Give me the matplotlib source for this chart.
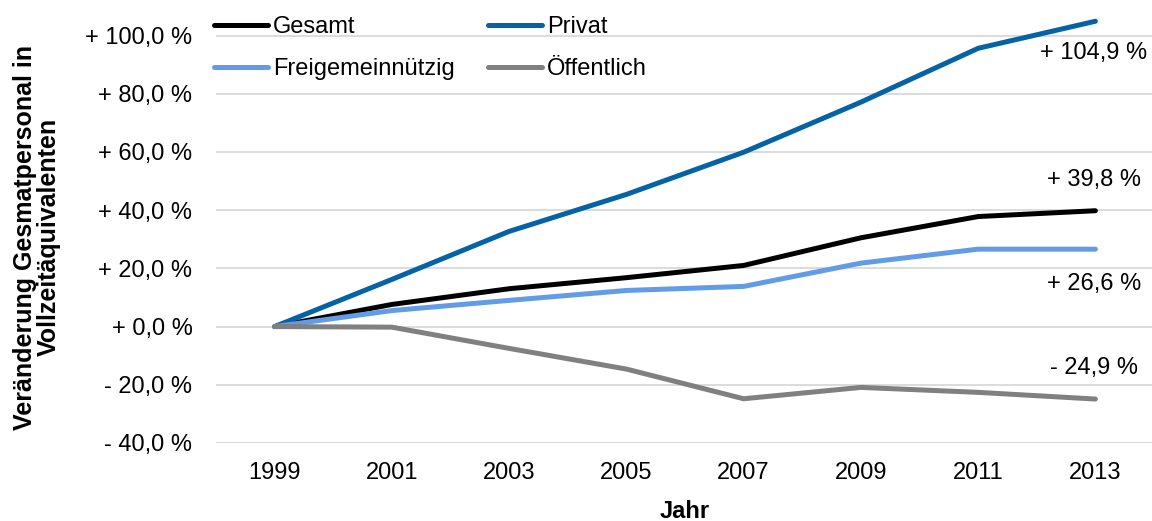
import matplotlib
matplotlib.use("Agg")
import matplotlib.pyplot as plt

plt.rcParams['font.family'] = ['Liberation Sans', 'DejaVu Sans']

# data (change vs. 1999 in %)
years = ["1999", "2001", "2003", "2005", "2007", "2009", "2011", "2013"]
gesamt = [0.0, 7.6, 13.0, 16.8, 21.0, 30.5, 37.8, 39.8]
privat = [0.0, 16.2, 32.7, 45.4, 59.9, 77.1, 95.6, 104.9]
freigemein = [0.0, 5.5, 9.0, 12.4, 13.8, 21.8, 26.6, 26.6]
oeffentlich = [0.0, -0.2, -7.5, -14.6, -24.8, -20.9, -22.6, -24.9]

series_names = ["Gesamt", "Privat", "Freigemeinnützig", "Öffentlich"]
end_labels = ["+ 39,8 %", "+ 104,9 %", "+ 26,6 %", "- 24,9 %"]
yticks = [-40, -20, 0, 20, 40, 60, 80, 100]

colors = ["#000000", "#0563a5", "#629ce6", "#808080"]
label_offsets = [(33, 22), (37, -23), (33, -25), (31, 22)]  # points, right aligned

fig = plt.figure(figsize=(11.52, 5.21), dpi=100)
ax = fig.add_axes([216 / 1152, 78 / 521, 938 / 1152, 443 / 521])

x = range(len(years))
lines = []
for name, vals, col in zip(series_names, [gesamt, privat, freigemein, oeffentlich], colors):
    ln, = ax.plot(x, vals, color=col, lw=3.6, solid_capstyle='round',
                  solid_joinstyle='round', label=name, zorder=3)
    lines.append(ln)

for vals, lab, off in zip([gesamt, privat, freigemein, oeffentlich], end_labels, label_offsets):
    ax.annotate(lab, xy=(len(years) - 1, vals[-1]), xytext=off, textcoords='offset points',
                ha='right', va='center', fontsize=17)

ax.set_xlim(-0.5, len(years) - 0.5)
ax.set_ylim(-40, 112.2)
ax.set_yticks(yticks)
ax.set_yticklabels([("- " if v < 0 else "+ ") + f"{abs(v):.1f}".replace(".", ",") + " %"
                    for v in yticks])
ax.set_xticks(list(x))
ax.set_xticklabels(years)
ax.tick_params(axis='both', length=0, labelsize=17)
ax.tick_params(axis='y', pad=17)
ax.tick_params(axis='x', pad=14)
ax.grid(axis='y', color='#d9d9d9', lw=1.3, zorder=0)
ax.set_axisbelow(True)
for s in ax.spines.values():
    s.set_visible(False)

ax.set_xlabel("Jahr", fontsize=17, fontweight='bold', labelpad=11)
fig.text(0.032, 0.545, "Veränderung Gesmatpersonal in\nVollzeitäquivalenten",
         rotation=90, ha='center', va='center', fontsize=18, fontweight='bold',
         linespacing=1.0)

# legend filled column-wise, so order handles to get Gesamt/Privat in the first row
order = [0, 2, 1, 3]
fig.legend(handles=[lines[i] for i in order], loc='upper left',
           bbox_to_anchor=(214 / 1152, 1 - 16 / 521),
           ncol=2, frameon=False, fontsize=17, handlelength=2.3, handletextpad=0.2,
           columnspacing=1.4, labelspacing=0.85, borderpad=0, borderaxespad=0)

fig.savefig("out.png", dpi=100)
